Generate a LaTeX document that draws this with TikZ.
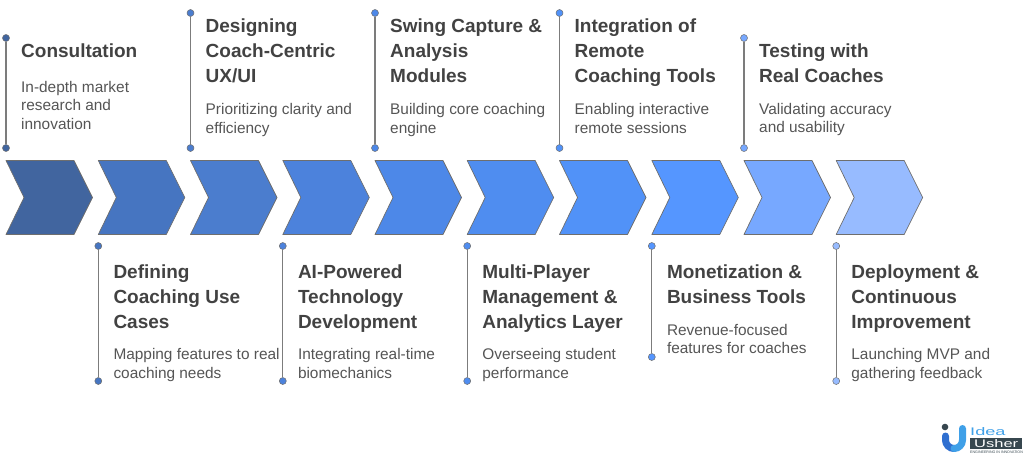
\documentclass[tikz,border=0pt]{standalone}
\usepackage{fontspec}
\setmainfont{Liberation Sans}
\usetikzlibrary{positioning}

\definecolor{inkhead}{HTML}{424242}
\definecolor{inkbody}{HTML}{555555}
\definecolor{edgegrey}{HTML}{6E6E6E}
\definecolor{stemgrey}{HTML}{7C7C7C}
\definecolor{logoblue}{HTML}{2F6FD0}
\definecolor{logosky}{HTML}{3FA0E8}
\definecolor{logoslate}{HTML}{37474F}

\definecolor{stepA}{HTML}{41659F}
\definecolor{stepB}{HTML}{4675C1}
\definecolor{stepC}{HTML}{4B7DCE}
\definecolor{stepD}{HTML}{4C82DC}
\definecolor{stepE}{HTML}{4D88E8}
\definecolor{stepF}{HTML}{4F8DF0}
\definecolor{stepG}{HTML}{5192F8}
\definecolor{stepH}{HTML}{5596FF}
\definecolor{stepI}{HTML}{77A8FF}
\definecolor{stepJ}{HTML}{97BBFF}

\tikzset{
	headtext/.style={inner sep=0pt, anchor=north west, align=left, text=inkhead, font=\fontsize{19}{24.6}\selectfont\bfseries},
	bodytext/.style={inner sep=0pt, align=left, text=inkbody, font=\fontsize{15.4}{18.5}\selectfont},
	stem/.style={draw=stemgrey, line width=1.2pt},
	enddot/.style={circle, draw=edgegrey, line width=0.5pt, inner sep=0pt, minimum size=7pt},
}

% chevron: left x, colour
\newcommand{\chevron}[2]{
	\pgfmathsetmacro{\CHa}{#1}
	\pgfmathsetmacro{\CHb}{#1+68}
	\pgfmathsetmacro{\CHc}{#1+86.5}
	\pgfmathsetmacro{\CHd}{#1+18}
	\draw[draw=edgegrey, line width=0.7pt, line join=round, fill=#2] (\CHa,160.5) -- (\CHb,160.5) -- (\CHc,197.5) -- (\CHb,234.5) -- (\CHa,234.5) -- (\CHd,197.5) -- cycle;
}

% note: name, x, y of stem ends, colour, y of heading, heading, gap, body
\newcommand{\stepnote}[9]{
	\node[enddot, fill=#5] (#1a) at (#2,#3) {};
	\node[enddot, fill=#5] (#1b) at (#2,#4) {};
	\draw[stem] (#1a) -- (#1b);
	\node[headtext] (#1head) at (#2+15,#6) {#7\strut};
	\node[bodytext, below right=#8pt and 0pt of #1head.south west] (#1body) {\strut #9};
}

\begin{document}
\begin{tikzpicture}[x=1pt, y=-1pt]
\useasboundingbox (0,0) rectangle (1024,458);

\foreach \cx/\cc in {6/stepA, 98.3/stepB, 190.5/stepC, 282.8/stepD, 375/stepE, 467.2/stepF, 559.5/stepG, 651.8/stepH, 744/stepI, 836.2/stepJ}{
	\chevron{\cx}{\cc}
}

\stepnote{consult}{6}{38}{148}{stepA}{40}{Consultation}{14}{In-depth market\\research and\\innovation}
\stepnote{design}{190.5}{13}{148}{stepC}{19}{Designing\\Coach-Centric\\UX/UI}{12}{Prioritizing clarity and\\efficiency}
\stepnote{swing}{375}{13}{148}{stepE}{19}{Swing Capture \&\\Analysis\\Modules}{12}{Building core coaching\\engine}
\stepnote{remote}{559.5}{13}{148}{stepG}{19}{Integration of\\Remote\\Coaching Tools}{12}{Enabling interactive\\remote sessions}
\stepnote{testing}{744}{38}{148}{stepI}{44}{Testing with\\Real Coaches}{11}{Validating accuracy\\and usability}

\stepnote{usecase}{98.3}{246}{381}{stepB}{265}{Defining\\Coaching Use\\Cases}{11}{Mapping features to real\\coaching needs}
\stepnote{aitech}{282.8}{246}{381}{stepD}{265}{AI-Powered\\Technology\\Development}{11}{Integrating real-time\\biomechanics}
\stepnote{player}{467.2}{246}{381}{stepF}{265}{Multi-Player\\Management \&\\Analytics Layer}{11}{Overseeing student\\performance}
\stepnote{money}{651.8}{246}{357}{stepH}{265}{Monetization \&\\Business Tools}{11}{Revenue-focused\\features for coaches}
\stepnote{deploy}{836.2}{246}{381}{stepJ}{265}{Deployment \&\\Continuous\\Improvement}{11}{Launching MVP and\\gathering feedback}

% logo
\draw[logoblue, line width=7pt, line cap=round] (945.5,436) -- (945.5,440) arc[start angle=180, end angle=90, radius=8.5];
\draw[logosky, line width=7pt, line cap=round] (954,448.5) arc[start angle=90, end angle=0, radius=8.5] -- (962.5,428.5);
\fill[logoslate] (945,427) circle[radius=3.3];
\node[inner sep=0pt, anchor=west, text=logosky, font=\fontsize{11}{11}\selectfont] (logoidea) at (970,432) {\scalebox{1.65}[1]{Idea}};
\node[inner sep=0pt, anchor=west, fill=logoslate, text=white, minimum width=52pt, minimum height=11pt, font=\fontsize{11}{11}\selectfont] (logousher) at (970,443.5) {\scalebox{1.5}[1]{Usher}};
\node[inner sep=0pt, text=logoslate, font=\fontsize{3.6}{4}\selectfont, below right=1.5pt and 0pt of logousher.south west] (logotag) {ENGINEERING IN INNOVATION};
\end{tikzpicture}
\end{document}
